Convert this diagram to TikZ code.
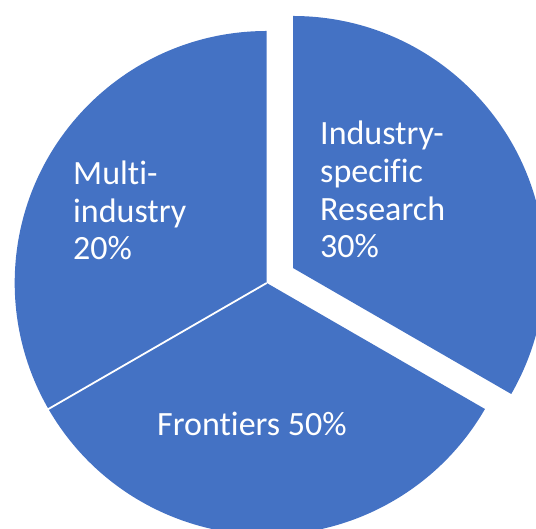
\documentclass[tikz,border=0pt]{standalone}
\usepackage{fontspec}
\setmainfont{Carlito}[Ligatures=NoCommon]
\usetikzlibrary{calc}
\definecolor{pieblue}{HTML}{4472C4}
\begin{document}
\begin{tikzpicture}[x=1bp,y=1bp,
  slice/.style={fill=pieblue,draw=none},
  lbl/.style={text=white,font=\fontsize{34bp}{37.7bp}\selectfont,align=left,inner sep=0pt,anchor=base west}]
\useasboundingbox (0,0) rectangle (536,529);
\clip (0,0) rectangle (536,529);
\coordinate (C) at (266.7,246);
\coordinate (R) at (293,261);
% Multi-industry
\fill[slice] (C) -- ++(90:252) arc[start angle=90,end angle=210,radius=252] -- cycle;
% Frontiers
\fill[slice] (C) -- ++(210:252) arc[start angle=210,end angle=330,radius=252] -- cycle;
% Industry-specific (exploded)
\fill[slice] (R) -- ++(90:252) arc[start angle=90,end angle=-30,radius=252] -- cycle;
\coordinate (E) at ($(C)+(210:253)$);
\draw[white,line width=1.8bp] (C) -- (E);
\node[lbl] (ind) at (320,271) {Industry-\\specific\\Research\\30\%};
\node[lbl] (mul) at (73,269) {Multi-\\industry\\20\%};
\node[lbl] (fro) at (157,93) {Frontiers 50\%};
\end{tikzpicture}
\end{document}
